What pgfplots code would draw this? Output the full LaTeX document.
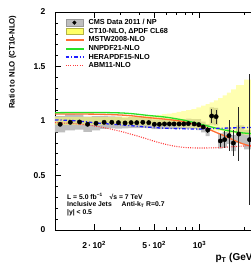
\documentclass[border=0pt]{standalone}
\usepackage{pgfplots}
\pgfplotsset{compat=1.18}
\usepackage{pgfplotstable}
\usepgfplotslibrary{fillbetween}
\usepackage{fontspec}
\setmainfont{Liberation Sans}
\definecolor{mstw}{RGB}{255,110,50}
\definecolor{nnpdf}{RGB}{40,225,40}
\definecolor{hera}{RGB}{30,30,255}
\definecolor{abm}{RGB}{255,60,60}
\definecolor{ctband}{RGB}{255,255,100}
\definecolor{sysgrey}{RGB}{190,190,190}

\pgfplotstableread{
x y stat
119 0.970 0.004
139 0.988 0.004
160 0.991 0.004
181 0.970 0.004
206 0.979 0.004
233 0.988 0.004
262 0.988 0.004
290 0.985 0.004
321 0.982 0.004
352 0.985 0.004
384 0.985 0.004
421 0.988 0.004
461 0.985 0.004
502 0.970 0.005
542 0.970 0.005
586 0.973 0.005
632 0.973 0.006
679 0.973 0.007
733 0.973 0.008
787 0.973 0.010
845 0.976 0.012
922 0.973 0.015
990 0.967 0.018
1060 0.945 0.022
1136 0.917 0.028
1205 1.046 0.065
1290 1.040 0.065
1377 0.817 0.060
1470 0.829 0.075
1570 0.865 0.140
1680 0.798 0.120
1825 0.880 0.245
2150 0.829 0.600
}\data

\pgfplotstableread{
lo su sd cu cd
110 1.045 0.895 1.035 0.965
128.5 1.063 0.913 1.035 0.965
148.8 1.061 0.921 1.035 0.965
169.9 1.040 0.900 1.035 0.965
193 1.044 0.914 1.035 0.965
219.2 1.048 0.928 1.035 0.965
247.2 1.043 0.933 1.035 0.965
275.7 1.040 0.930 1.037 0.964
305.1 1.032 0.932 1.040 0.963
336.2 1.035 0.935 1.040 0.962
367.6 1.035 0.935 1.042 0.962
402.2 1.038 0.938 1.045 0.960
440.7 1.035 0.935 1.048 0.960
481.5 1.015 0.925 1.052 0.958
522.1 1.015 0.925 1.056 0.956
563.6 1.018 0.928 1.062 0.954
608.3 1.018 0.928 1.068 0.952
655.1 1.018 0.928 1.075 0.950
705.6 1.018 0.928 1.083 0.947
759.6 1.018 0.928 1.090 0.944
815.5 1.021 0.931 1.100 0.941
882.6 1.018 0.928 1.110 0.937
955.4 1.017 0.917 1.125 0.933
1024.7 0.995 0.895 1.140 0.928
1097.5 0.972 0.862 1.155 0.923
1170.2 1.126 0.966 1.170 0.918
1246.9 1.120 0.960 1.190 0.912
1332.8 0.887 0.747 1.210 0.906
1423 0.899 0.759 1.235 0.900
1519.4 0.940 0.790 1.260 0.893
1624.6 0.873 0.723 1.290 0.886
1751 0.960 0.800 1.330 0.878
1980 0.919 0.739 1.380 0.870
2300 0.919 0.739 1.380 0.870
}\bands

\newcommand\fs[1]{\fontsize{#1}{#1}\selectfont\bfseries}

\begin{document}
\begin{tikzpicture}
\begin{axis}[
  name=ax,
  scale only axis, width=204.4pt, height=218pt,
  xmode=log, xmin=110, xmax=2500, ymin=0, ymax=2,
  xtick={200,500,1000},
  xticklabels={{2\,·\,10\textsuperscript{2}},{5\,·\,10\textsuperscript{2}},{10\textsuperscript{3}}},
  minor xtick={300,400,600,700,800,900,2000},
  ytick={0,0.5,1,1.5,2}, yticklabels={0,0.5,1,1.5,2},
  minor ytick={0.1,0.2,0.3,0.4,0.6,0.7,0.8,0.9,1.1,1.2,1.3,1.4,1.6,1.7,1.8,1.9},
  tick align=inside, major tick length=6pt, minor tick length=3pt,
  tick style={black, line width=0.6pt},
  axis line style={line width=0.7pt},
  xticklabel style={font=\fs{8.5}, anchor=base, yshift=-18pt},
  yticklabel style={font=\fs{8.5}, xshift=-6pt},
  ylabel={Ratio to NLO (CT10-NLO)},
  ylabel style={font=\fs{7.8}, at={(axis description cs:-0.208,1)}, anchor=east},
  xlabel={p\textsubscript{T} (GeV)},
  xlabel style={font=\fs{10}, at={(axis description cs:1,-0.142)}, anchor=base east},
  legend cell align=left,
  legend style={at={(axis description cs:0.049,0.968)}, anchor=north west,
    draw=none, fill=none, inner sep=0pt, font=\fs{7.3},
    nodes={inner sep=0pt, text height=5.5pt, text depth=1.5pt},
    row sep=1.6pt,
    /tikz/every odd column/.append style={column sep=5pt}},
]
\addlegendimage{legend image code/.code={\draw[fill=sysgrey,draw=gray!80] (0cm,-0.11cm) rectangle (0.6cm,0.11cm); \fill[black] (0.3cm,0cm) circle (1.8pt);}}
\addlegendentry{CMS Data 2011 / NP}
\addlegendimage{legend image code/.code={\draw[fill=ctband,draw=ctband!70!black] (0cm,-0.11cm) rectangle (0.6cm,0.11cm);}}
\addlegendentry{CT10-NLO, ΔPDF CL68}
\addlegendimage{legend image code/.code={\fill[mstw] (0cm,-0.75pt) rectangle (0.6cm,0.75pt);}}
\addlegendentry{MSTW2008-NLO}
\addlegendimage{legend image code/.code={\fill[nnpdf] (0cm,-0.75pt) rectangle (0.6cm,0.75pt);}}
\addlegendentry{NNPDF21-NLO}
\addlegendimage{legend image code/.code={\draw[hera, line width=1.3pt, dash pattern=on 3.5pt off 2pt on 1pt off 2pt] (0cm,0cm) -- (0.6cm,0cm);}}
\addlegendentry{HERAPDF15-NLO}
\addlegendimage{legend image code/.code={\draw[abm, line width=1.1pt, dash pattern=on 1pt off 1.3pt] (0cm,0cm) -- (0.6cm,0cm);}}
\addlegendentry{ABM11-NLO}

% systematic boxes
\addplot[const plot, draw=none, name path=su, forget plot] table[x=lo, y=su] {\bands};
\addplot[const plot, draw=none, name path=sd, forget plot] table[x=lo, y=sd] {\bands};
\addplot[sysgrey, forget plot] fill between[of=su and sd];
% CT10 PDF band
\addplot[const plot, draw=none, name path=cu, forget plot] table[x=lo, y=cu] {\bands};
\addplot[const plot, draw=none, name path=cd, forget plot] table[x=lo, y=cd] {\bands};
\addplot[ctband, fill opacity=0.5, forget plot] fill between[of=cu and cd];

% theory curves
\addplot[color=mstw, line width=1.3pt, smooth, forget plot] coordinates {
(110,1.064)(150,1.064)(219,1.062)(300,1.055)(365,1.046)(450,1.032)(608,1.015)(784,0.994)(1009,0.954)(1150,0.925)(1303,0.893)(1500,0.858)(1680,0.826)(1900,0.795)(2167,0.771)(2500,0.750)};
\addplot[color=nnpdf, line width=1.3pt, smooth, forget plot] coordinates {
(110,1.076)(150,1.078)(219,1.078)(300,1.074)(365,1.066)(450,1.052)(608,1.034)(784,1.008)(1009,0.972)(1150,0.952)(1303,0.933)(1500,0.915)(1680,0.903)(1900,0.892)(2167,0.885)(2500,0.878)};
\addplot[color=hera, line width=1.3pt, dash pattern=on 3.5pt off 2pt on 1pt off 2pt, smooth, forget plot] coordinates {
(110,1.010)(140,1.005)(170,0.995)(219,0.979)(300,0.965)(365,0.955)(471,0.942)(608,0.933)(800,0.928)(1009,0.927)(1303,0.932)(1700,0.937)(2167,0.940)(2500,0.942)};
\addplot[color=abm, line width=1.1pt, dash pattern=on 1pt off 1.3pt, smooth, forget plot] coordinates {
(110,0.985)(150,0.975)(200,0.955)(250,0.930)(300,0.905)(350,0.880)(400,0.857)(500,0.815)(600,0.785)(700,0.767)(800,0.757)(1000,0.752)(1300,0.755)(1700,0.765)(2200,0.775)(2500,0.778)};

% data
\addplot[only marks, mark=*, mark size=2.2pt, black, forget plot,
  error bars/.cd, y dir=both, y explicit,
  error bar style={line width=0.9pt, black!85}, error mark=none]
  table[x=x, y=y, y error=stat] {\data};

\node[anchor=north west, align=left, font=\fs{6.8}, inner sep=0pt] at (axis description cs:0.0587,0.168)
 {L = 5.0 fb\textsuperscript{−1}\hspace{5pt} √s = 7 TeV\\[0.3pt]
  Inclusive Jets\hspace{8pt} Anti-k\textsubscript{T} R=0.7\\[0.3pt]
  |y| \textless{} 0.5};
\end{axis}
\pgfresetboundingbox
\path[use as bounding box] ([shift={(-55pt,-36pt)}]ax.south west) rectangle ([shift={(196pt,230pt)}]ax.south west);
\end{tikzpicture}
\end{document}
